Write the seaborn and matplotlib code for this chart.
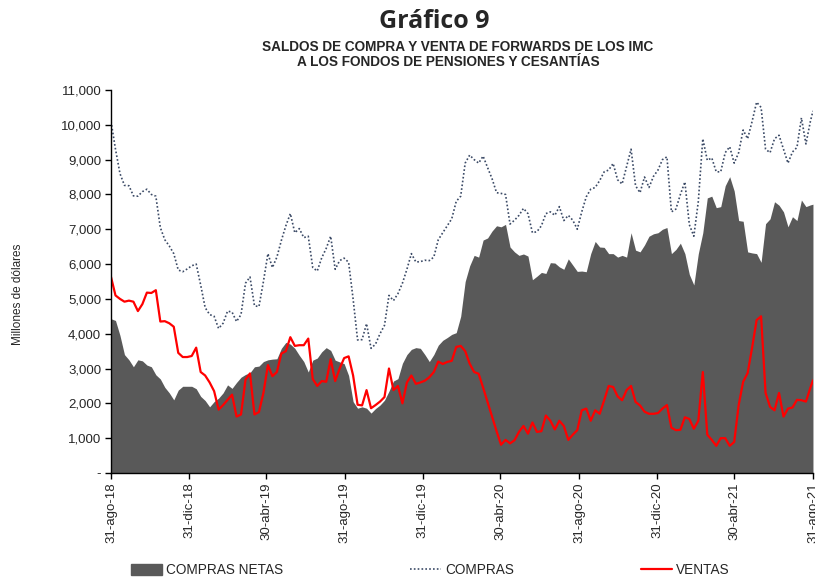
import matplotlib
matplotlib.use('Agg')
import matplotlib.pyplot as plt
import seaborn as sns
import pandas as pd
from matplotlib.patches import Patch
from matplotlib.lines import Line2D

# weekly readings (Fridays from 31-ago-18) plus the last day 31-ago-21, millions of USD
compras = [
    10100, 9300, 8600, 8260, 8250, 7960, 7950, 8080, 8150, 8000, 7950, 7050, 6700, 6520, 6300, 5830,
    5780, 5860, 5950, 6000, 5400, 4750, 4550, 4500, 4150, 4300, 4650, 4620, 4350, 4550, 5450, 5630,
    4800, 4780, 5500, 6300, 5900, 6200,
    6680, 7100, 7450, 6900, 7020, 6760, 6800, 5900, 5800, 6180, 6450, 6800, 5850, 6100, 6170, 6050,
    5000, 3820, 3830, 4290, 3580, 3700, 4000, 4240, 5100, 4950, 5150, 5450, 5850, 6300, 6060, 6070,
    6110, 6100, 6200, 6700,
    6900, 7100, 7300, 7800, 7950, 8900, 9130, 9000, 8900, 9100, 8770, 8450, 8050, 8030, 8000, 7150,
    7260, 7400, 7600, 7450, 6900, 6930, 7100, 7450, 7500, 7400, 7650, 7250, 7400, 7260, 7000, 7500,
    7930, 8150, 8200, 8400,
    8650, 8700, 8890, 8420, 8300, 8800, 9300, 8250, 8050, 8500, 8200, 8520, 8700, 9000, 9080, 7500,
    7580, 8000, 8360, 7130, 6800, 7800, 9600, 8980, 9050, 8650, 8650, 9200, 9370, 8900, 9200, 9850,
    9600, 10100, 10650,
    10500, 9300, 9200, 9600, 9700, 9300, 8900, 9220, 9350, 10200, 9450, 10100, 10400,
]
ventas = [
    5630, 5100, 5000, 4920, 4950, 4920, 4650, 4850, 5180, 5170, 5250, 4350, 4360, 4300, 4200, 3450,
    3330, 3330, 3360, 3600, 2900, 2800, 2600, 2350, 1820, 1950, 2100, 2250, 1620, 1680, 2680, 2860,
    1680, 1750, 2300, 3100, 2780, 2900,
    3430, 3500, 3900, 3650, 3670, 3670, 3860, 2700, 2500, 2640, 2620, 3270, 2640, 3000, 3300, 3350,
    2800, 1960, 1940, 2380, 1860, 1950, 2050, 2180, 3000, 2380, 2500, 2000, 2600, 2800, 2560, 2600,
    2650, 2750, 2900, 3200,
    3130, 3190, 3220, 3620, 3650, 3500, 3140, 2900, 2850, 2450, 2030, 1600, 1200, 810, 950, 850,
    940, 1180, 1350, 1130, 1450, 1180, 1200, 1650, 1500, 1250, 1500, 1350, 950, 1100, 1230, 1800,
    1850, 1500, 1800, 1700,
    2090, 2500, 2470, 2200, 2090, 2380, 2500, 2040, 1940, 1760, 1700, 1700, 1720, 1850, 1950, 1300,
    1230, 1240, 1600, 1550, 1270, 1500, 2900, 1100, 950, 780, 1000, 1000, 780, 890, 1950, 2620,
    2870, 3600, 4390,
    4500, 2300, 1900, 1800, 2300, 1620, 1850, 1880, 2100, 2090, 2050, 2450, 2660,
]
compras_netas = [
    4430, 4380, 3950, 3400, 3250, 3050, 3250, 3220, 3100, 3050, 2820, 2700, 2460, 2300, 2100, 2380,
    2490, 2490, 2490, 2420, 2200, 2080, 1900, 2050, 2150, 2300, 2530, 2430, 2600, 2750, 2830, 2880,
    3050, 3070, 3200, 3250, 3270, 3280,
    3580, 3750, 3700, 3580, 3380, 3200, 2900, 3240, 3300, 3480, 3600, 3520, 3240, 3190, 3140, 2800,
    2050, 1860, 1900, 1860, 1720, 1850, 1950, 2090, 2350, 2640, 2710, 3150, 3400, 3550, 3600, 3580,
    3400, 3200, 3400, 3670,
    3810, 3890, 3980, 4030, 4500, 5500, 5950, 6250, 6200, 6690, 6750, 6950, 7100, 7070, 7140, 6490,
    6350, 6250, 6290, 6230, 5550, 5650, 5760, 5730, 6040, 6030, 5920, 5850, 6150, 5970, 5790, 5800,
    5780, 6300, 6650, 6490,
    6480, 6300, 6300, 6200, 6250, 6200, 6900, 6400, 6350, 6550, 6800, 6870, 6900, 7000, 7050, 6300,
    6420, 6600, 6300, 5700, 5400, 6300, 6900, 7900, 7950, 7620, 7650, 8250, 8510, 8100, 7250, 7230,
    6350, 6320, 6300,
    6050, 7160, 7300, 7790, 7690, 7500, 7070, 7360, 7250, 7840, 7650, 7700, 7720,
]

tick_dates = ['2018-08-31', '2018-12-31', '2019-04-30', '2019-08-31', '2019-12-31',
              '2020-04-30', '2020-08-31', '2020-12-31', '2021-04-30', '2021-08-31']
tick_labels = ['31-ago-18', '31-dic-18', '30-abr-19', '31-ago-19', '31-dic-19',
               '30-abr-20', '31-ago-20', '31-dic-20', '30-abr-21', '31-ago-21']
y_ticks = [0, 1000, 2000, 3000, 4000, 5000, 6000, 7000, 8000, 9000, 10000, 11000]
y_labels = ['-', '1,000', '2,000', '3,000', '4,000', '5,000', '6,000', '7,000', '8,000',
            '9,000', '10,000', '11,000']

dates = list(pd.date_range('2018-08-31', periods=157, freq='7D')) + [pd.Timestamp('2021-08-31')]
df = pd.DataFrame({'fecha': dates, 'compras': compras, 'ventas': ventas, 'netas': compras_netas})

sns.set_style('white')
plt.rcParams['font.family'] = ['Liberation Sans', 'DejaVu Sans']

gray = '#595959'
navy = '#3B4A66'
red = '#FF0000'

fig = plt.figure(figsize=(8.15, 5.78), dpi=100)
ax = fig.add_axes([0.1362, 0.1817, 0.8613, 0.6626])

ax.fill_between(df['fecha'], df['netas'], color=gray, lw=0)
sns.lineplot(data=df, x='fecha', y='compras', ax=ax, color=navy, lw=1.2, ls=(0, (1, 1.3)))
sns.lineplot(data=df, x='fecha', y='ventas', ax=ax, color=red, lw=1.6)

ax.set_xlim(pd.Timestamp(tick_dates[0]), pd.Timestamp(tick_dates[-1]))
ax.set_ylim(0, 11000)
ax.set_xticks(pd.to_datetime(tick_dates))
ax.set_xticklabels(tick_labels, rotation=90, fontsize=9.5)
ax.set_yticks(y_ticks)
ax.set_yticklabels(y_labels, fontsize=9.5)
ax.set_xlabel('')
ax.set_ylabel('')
ax.tick_params(axis='both', direction='out', length=4, width=1, color='black', pad=3,
               bottom=True, left=True)
for side in ['top', 'right']:
    ax.spines[side].set_visible(False)
for side in ['left', 'bottom']:
    ax.spines[side].set_color('black')
    ax.spines[side].set_linewidth(1)

fig.text(0.533, 0.963, 'Gráfico 9', ha='center', va='center', fontsize=18,
         fontweight='bold', family=['Open Sans', 'DejaVu Sans'])
fig.text(0.561, 0.919, 'SALDOS DE COMPRA Y VENTA DE FORWARDS DE LOS IMC', ha='center',
         va='center', fontsize=9.8, fontweight='bold')
fig.text(0.550, 0.893, 'A LOS FONDOS DE PENSIONES Y CESANTÍAS', ha='center',
         va='center', fontsize=9.8, fontweight='bold')
fig.text(0.022, 0.49, 'Millones de dólares', rotation=90, ha='center', va='center', fontsize=8.5)

handles = [Patch(color=gray), Line2D([], [], color=navy, lw=1.2, ls=(0, (1, 1.3))),
           Line2D([], [], color=red, lw=1.6)]
fig.legend(handles, ['COMPRAS NETAS', 'COMPRAS', 'VENTAS'], loc='center',
           bbox_to_anchor=(0.528, 0.014), ncol=3, frameon=False, fontsize=9.8,
           handlelength=2.3, handletextpad=0.3, columnspacing=9.3, handleheight=0.9)

fig.savefig('out.png', dpi=100)
